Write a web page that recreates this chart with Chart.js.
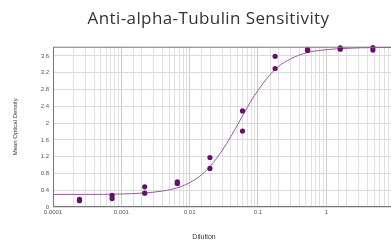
<!DOCTYPE html>
<html>
<head>
<meta charset="utf-8">
<script src="https://cdn.jsdelivr.net/npm/chart.js@4"></script>
<style>
  html, body { margin: 0; padding: 0; background: #fff; overflow: hidden; }
  #wrap { width: 400px; height: 243px; }
</style>
</head>
<body>
<div id="wrap"><canvas id="chart" width="400" height="243"></canvas></div>
<script>
// titles
const chartTitle = 'Anti-alpha-Tubulin Sensitivity';
const xTitle = 'Dilution';
const yTitle = 'Mean Optical Density';

// measured points (two replicates per dilution)
const dilutions = [0.000244, 0.000732, 0.0022, 0.0066, 0.0198, 0.0593, 0.178, 0.533, 1.6, 4.8];
const odRep1 = [0.18, 0.28, 0.48, 0.60, 1.18, 2.29, 3.59, 3.75, 3.79, 3.80];
const odRep2 = [0.15, 0.20, 0.33, 0.56, 0.92, 1.81, 3.30, 3.73, 3.76, 3.74];

// fitted curve
const fitX = [0.0001, 0.0003, 0.001, 0.002, 0.004, 0.007, 0.01, 0.015, 0.02, 0.03, 0.04, 0.054, 0.07, 0.1, 0.15, 0.2, 0.3, 0.5, 1, 2, 5, 10];
const fitY = [0.30, 0.30, 0.31, 0.33, 0.38, 0.47, 0.58, 0.77, 0.97, 1.35, 1.68, 2.05, 2.38, 2.78, 3.15, 3.35, 3.53, 3.67, 3.75, 3.78, 3.80, 3.80];

// axis ticks
const xTickLabels = [0.0001, 0.001, 0.01, 0.1, 1, 10];
const yTickLabels = [0, 0.4, 0.8, 1.2, 1.6, 2, 2.4, 2.8, 3.2, 3.6];

const pts = (xs, ys) => xs.map((x, i) => ({x: x, y: ys[i]}));
const isDecade = v => xTickLabels.some(t => Math.abs(v - t) / t < 1e-6);

// title, x title and plot frame
const extras = {
    id: 'extras',
    afterDraw(chart) {
        const c = chart.ctx;
        const a = chart.chartArea;
        c.save();
        c.strokeStyle = '#777';
        c.lineWidth = 1;
        c.strokeRect(a.left + 0.5, a.top + 0.5, a.right - a.left - 1, a.bottom - a.top - 1);
        c.fillStyle = '#333';
        c.textAlign = 'center';
        c.textBaseline = 'alphabetic';
        c.font = '17px "Open Sans"';
        c.letterSpacing = '0.4px';
        c.fillText(chartTitle, 208.5, 23.5);
        c.letterSpacing = '0px';
        c.textBaseline = 'middle';
        c.font = '7px "Liberation Sans"';
        c.fillText(xTitle, 204, 237);
        c.restore();
    }
};

new Chart(document.getElementById('chart'), {
    type: 'scatter',
    data: {
        datasets: [
            {
                type: 'line',
                data: pts(fitX, fitY),
                borderColor: '#9a5a9c',
                borderWidth: 1,
                pointRadius: 0,
                cubicInterpolationMode: 'monotone',
                order: 2
            },
            {
                data: pts(dilutions, odRep1),
                backgroundColor: '#6a0d70',
                borderWidth: 0,
                pointRadius: 2.6,
                order: 1
            },
            {
                data: pts(dilutions, odRep2),
                backgroundColor: '#6a0d70',
                borderWidth: 0,
                pointRadius: 2.6,
                order: 1
            }
        ]
    },
    options: {
        responsive: false,
        animation: false,
        clip: false,
        layout: { padding: { left: 0, right: 4.5, top: 46.7, bottom: 0 } },
        plugins: { legend: { display: false }, tooltip: { enabled: false } },
        scales: {
            x: {
                type: 'logarithmic',
                min: 0.0001,
                max: 10,
                afterFit: s => { s.height = 36; },
                border: { display: false },
                grid: {
                    drawTicks: false,
                    color: ctx => isDecade(ctx.tick.value) ? '#cccccc' : '#e0e0e0'
                },
                ticks: {
                    autoSkip: false,
                    maxRotation: 0,
                    padding: 2,
                    color: '#555',
                    font: { family: 'Liberation Sans', size: 6 },
                    callback: v => isDecade(v) ? String(v) : ''
                }
            },
            y: {
                min: 0,
                max: 3.82,
                afterFit: s => { s.width = 53; },
                afterBuildTicks: s => { s.ticks = yTickLabels.map(v => ({value: v})); },
                border: { display: false },
                grid: { drawTicks: false, color: '#dadada' },
                ticks: {
                    padding: 4,
                    color: '#555',
                    font: { family: 'Liberation Sans', size: 6 },
                    callback: v => String(Math.round(v * 10) / 10)
                },
                title: {
                    display: true,
                    text: yTitle,
                    color: '#333',
                    font: { family: 'Liberation Sans', size: 6 },
                    padding: { top: 12, bottom: 0 }
                }
            }
        }
    },
    plugins: [extras]
});
</script>
</body>
</html>
